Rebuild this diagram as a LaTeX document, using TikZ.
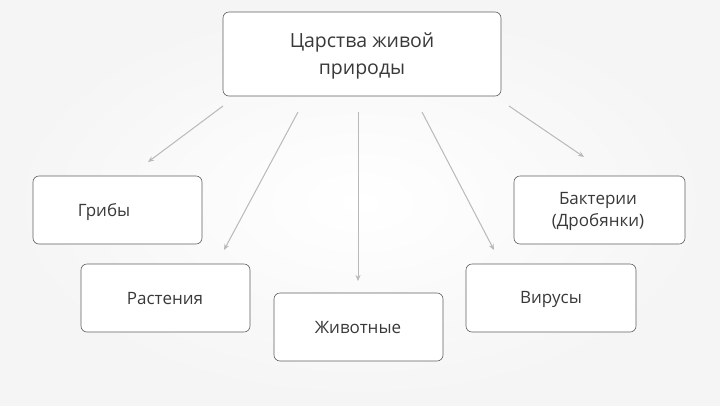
\documentclass[tikz,border=0pt]{standalone}
\usepackage{fontspec}
\setmainfont{Open Sans}
\begin{document}
\begin{tikzpicture}[x=1pt,y=-1pt,
  box/.style={draw=gray!75!black,line width=0.6pt,fill=white,rounded corners=6pt,inner sep=0pt},
  lbl/.style={text=gray!45!black,font=\fontsize{17}{22}\selectfont,align=center},
  arr/.style={draw=gray!55,line width=1pt,-{Stealth[length=6pt,width=5pt]}}]
\usetikzlibrary{arrows.meta}
\shade[inner color=white,outer color=gray!8] (0,0) rectangle (720,405);
\useasboundingbox (0,0) rectangle (720,405);
\node[box,minimum width=278pt,minimum height=84pt] (top) at (362,54) {};
\node[lbl,font=\fontsize{19.5}{27}\selectfont] at (362,56) {Царства живой\\природы};
\node[box,minimum width=169pt,minimum height=68pt] (g) at (117.5,210) {};
\node[lbl] at (104,212) {Грибы};
\node[box,minimum width=169pt,minimum height=68pt] (r) at (165.5,298) {};
\node[lbl] at (165,299) {Растения};
\node[box,minimum width=169pt,minimum height=68pt] (z) at (358.5,327) {};
\node[lbl] at (358,328) {Животные};
\node[box,minimum width=170pt,minimum height=68pt] (v) at (551,298) {};
\node[lbl] at (551,299) {Вирусы};
\node[box,minimum width=171pt,minimum height=68pt] (b) at (599.5,210) {};
\node[lbl] at (598,211) {Бактерии\\(Дробянки)};
\coordinate (s1) at (223,106); \coordinate (e1) at (148,162);
\coordinate (s2) at (298,112); \coordinate (e2) at (224,250);
\coordinate (s3) at (358,112); \coordinate (e3) at (358,281);
\coordinate (s4) at (422,112); \coordinate (e4) at (494,250);
\coordinate (s5) at (509,106); \coordinate (e5) at (584,157);
\draw[arr] (s1) -- (e1);
\draw[arr] (s2) -- (e2);
\draw[arr] (s3) -- (e3);
\draw[arr] (s4) -- (e4);
\draw[arr] (s5) -- (e5);
\end{tikzpicture}
\end{document}
